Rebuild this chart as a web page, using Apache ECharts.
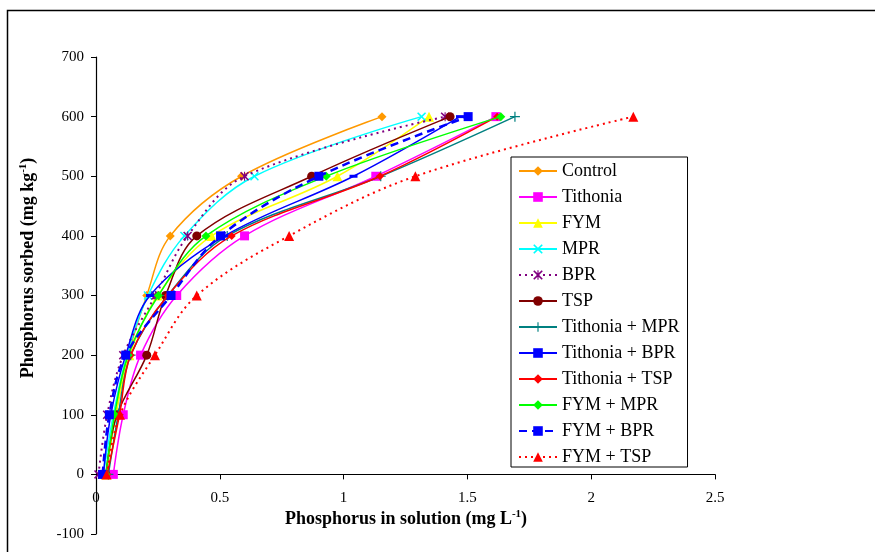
<!DOCTYPE html>
<html><head><meta charset="utf-8">
<script src="https://cdn.jsdelivr.net/npm/echarts@6/dist/echarts.min.js"></script>
<style>html,body{margin:0;padding:0;background:#fff;overflow:hidden}#c{width:875px;height:552px}</style>
</head><body><div id="c"></div>
<script>
// P sorbed levels (y values, mg/kg)
const sorbed = [0, 100, 200, 300, 400, 500, 600];
// P in solution (x values, mg/L) for each treatment
const control      = [0.040, 0.080, 0.130, 0.205, 0.300, 0.588, 1.155];
const tithonia     = [0.070, 0.110, 0.180, 0.326, 0.600, 1.130, 1.615];
const fym          = [0.040, 0.080, 0.135, 0.250, 0.467, 0.975, 1.345];
const mpr          = [0.030, 0.070, 0.125, 0.210, 0.357, 0.640, 1.315];
const bpr          = [0.010, 0.045, 0.110, 0.240, 0.370, 0.600, 1.410];
const tsp          = [0.040, 0.085, 0.205, 0.281, 0.407, 0.871, 1.430];
const tithMpr      = [0.050, 0.090, 0.140, 0.290, 0.530, 1.150, 1.692];
const tithBpr      = [0.030, 0.060, 0.120, 0.218, 0.520, 1.040, 1.470];
const tithTsp      = [0.045, 0.095, 0.140, 0.290, 0.548, 1.147, 1.620];
const fymMpr       = [0.040, 0.075, 0.130, 0.252, 0.444, 0.930, 1.635];
const fymBpr       = [0.027, 0.054, 0.120, 0.303, 0.503, 0.900, 1.503];
const fymTsp       = [0.043, 0.097, 0.238, 0.407, 0.780, 1.290, 2.170];
const seriesNames = ['Control', 'Tithonia', 'FYM', 'MPR', 'BPR', 'TSP',
  'Tithonia + MPR', 'Tithonia + BPR', 'Tithonia + TSP', 'FYM + MPR', 'FYM + BPR', 'FYM + TSP'];
const seriesValues = [control, tithonia, fym, mpr, bpr, tsp, tithMpr, tithBpr, tithTsp, fymMpr, fymBpr, fymTsp];
const xTicks = [0, 0.5, 1, 1.5, 2, 2.5];
const yTicks = [-100, 0, 100, 200, 300, 400, 500, 600, 700];

const xPath = 'path://M0,1.2 L1.2,0 L5,3.8 L8.8,0 L10,1.2 L6.2,5 L10,8.8 L8.8,10 L5,6.2 L1.2,10 L0,8.8 L3.8,5 Z';
const plusPath = 'path://M4.4,0 H5.6 V4.4 H10 V5.6 H5.6 V10 H4.4 V5.6 H0 V4.4 H4.4 Z';
const starPath = 'path://M0,1.2 L1.2,0 L5,3.8 L8.8,0 L10,1.2 L6.2,5 L10,8.8 L8.8,10 L5,6.2 L1.2,10 L0,8.8 L3.8,5 Z M4.4,0 H5.6 V10 H4.4 Z';
const dashPath = 'path://M0,0 H10 V3 H0 Z';

const styles = [
  {color: '#FF9900', symbol: 'diamond', size: 9, type: 'solid', width: 1.5},
  {color: '#FF00FF', symbol: 'rect', size: 9, type: 'solid', width: 1.5},
  {color: '#FFFF00', symbol: 'triangle', size: 10, type: 'solid', width: 1.5},
  {color: '#00FFFF', symbol: xPath, size: 9, type: 'solid', width: 1.5},
  {color: '#800080', symbol: starPath, size: 9, type: [2, 4], width: 2},
  {color: '#800000', symbol: 'circle', size: 9, type: 'solid', width: 1.5},
  {color: '#008080', symbol: plusPath, size: 10, type: 'solid', width: 1.5},
  {color: '#0000FF', symbol: dashPath, size: [8, 3], type: 'solid', width: 1.5},
  {color: '#FF0000', symbol: 'diamond', size: 8, type: 'solid', width: 1.5},
  {color: '#00FF00', symbol: 'diamond', size: 9, type: 'solid', width: 1.5},
  {color: '#0000FF', symbol: 'rect', size: 9, type: [8, 5], width: 2.5},
  {color: '#FF0000', symbol: 'triangle', size: 10, type: [2, 4], width: 2}
];

const series = seriesNames.map((name, i) => ({
  name: name,
  type: 'line',
  xAxisIndex: 0, yAxisIndex: 0,
  smooth: 0.35,
  data: seriesValues[i].map((x, j) => [x, sorbed[j]]),
  symbol: styles[i].symbol,
  symbolSize: styles[i].size,
  showAllSymbol: true,
  itemStyle: {color: styles[i].color},
  lineStyle: {color: styles[i].color, width: styles[i].width, type: styles[i].type},
  emphasis: {disabled: true},
  z: 2 + i
}));

const serif = 'Liberation Serif';
const xMin = xTicks[0], xMax = xTicks[xTicks.length - 1];
const chart = echarts.init(document.getElementById('c'), null, {renderer: 'canvas'});
chart.setOption({
  animation: false,
  backgroundColor: '#fff',
  grid: [
    {left: 96, right: 160, top: 57, bottom: 18, containLabel: false},
    {left: 96, right: 160, top: 474, height: 1, containLabel: false}
  ],
  xAxis: [{
    type: 'value', gridIndex: 0, min: xMin, max: xMax, interval: 0.5,
    axisLine: {onZero: true, lineStyle: {color: '#000', width: 1.2}},
    axisTick: {show: true, inside: false, length: 5, lineStyle: {color: '#000'}},
    axisLabel: {show: false},
    splitLine: {show: false}
  }, {
    type: 'value', gridIndex: 1, position: 'bottom', min: xMin, max: xMax, interval: 0.5,
    axisLine: {show: false}, axisTick: {show: false},
    axisLabel: {color: '#000', fontFamily: serif, fontSize: 15, margin: 16},
    splitLine: {show: false}
  }],
  yAxis: [{
    type: 'value', gridIndex: 0, min: yTicks[0], max: yTicks[yTicks.length - 1], interval: 100,
    axisLine: {show: true, onZero: false, lineStyle: {color: '#000', width: 1.2}},
    axisTick: {show: true, inside: false, length: 5, lineStyle: {color: '#000'}},
    axisLabel: {color: '#000', fontFamily: serif, fontSize: 15, margin: 12},
    splitLine: {show: false}
  }, {
    type: 'value', gridIndex: 1, show: false, min: 0, max: 1
  }],
  legend: {
    orient: 'vertical', left: 511, top: 157,
    borderColor: '#000', borderWidth: 1, backgroundColor: '#fff',
    padding: [5, 8, 1, 7],
    itemWidth: 38, itemHeight: 12, itemGap: 8,
    textStyle: {fontFamily: serif, fontSize: 18, color: '#000'},
    data: seriesNames,
    selectedMode: false
  },
  graphic: [
    {type: 'rect', left: 5, top: 8, shape: {width: 900, height: 600}, style: {fill: 'none', stroke: '#000', lineWidth: 1.5}, silent: true},
    {type: 'text', x: 406, y: 519, style: {
      text: '{b|Phosphorus in solution (mg L}{s|-1}{b|)}',
      align: 'center', verticalAlign: 'middle',
      rich: {b: {fontFamily: serif, fontSize: 18, fontWeight: 'bold', fill: '#000', lineHeight: 20},
             s: {fontFamily: serif, fontSize: 11, fontWeight: 'bold', fill: '#000', verticalAlign: 'top', lineHeight: 20}}
    }},
    {type: 'text', x: 28, y: 268, rotation: Math.PI / 2, style: {
      text: '{b|Phosphorus sorbed (mg kg}{s|-1}{b|)}',
      align: 'center', verticalAlign: 'middle',
      rich: {b: {fontFamily: serif, fontSize: 18, fontWeight: 'bold', fill: '#000', lineHeight: 20},
             s: {fontFamily: serif, fontSize: 11, fontWeight: 'bold', fill: '#000', verticalAlign: 'top', lineHeight: 20}}
    }}
  ],
  series: series
});
</script></body></html>
